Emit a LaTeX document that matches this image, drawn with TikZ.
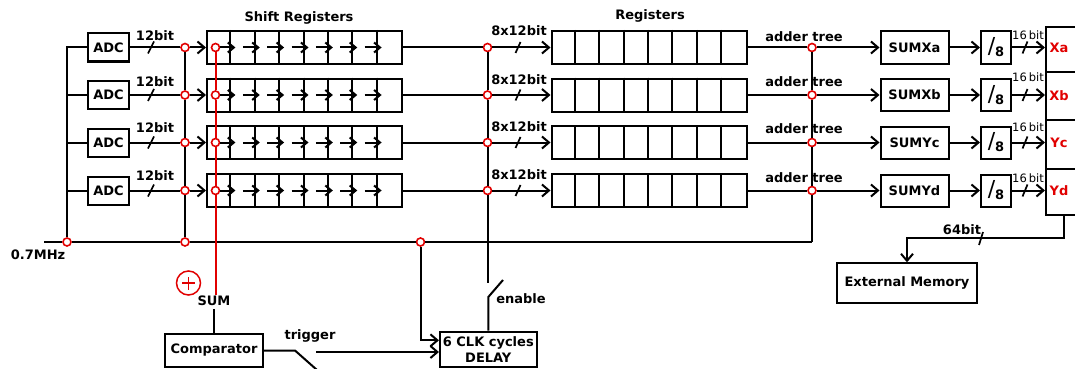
\documentclass[tikz,border=0pt]{standalone}
\usepackage{fontspec}
\setmainfont{DejaVu Sans}
\usetikzlibrary{arrows.meta}
\definecolor{rd}{RGB}{225,0,0}
\begin{document}
\begin{tikzpicture}[x=1pt,y=-1pt,
  wire/.style={line width=2pt},
  redwire/.style={line width=2pt, draw=rd},
  >={Straight Barb[length=7pt,width=12pt]},
  bf/.style={font=\bfseries\fontsize{13}{15}\selectfont},
  box/.style={draw, line width=2pt, inner sep=0pt, bf},
  dot/.style={circle, draw=rd, fill=white, line width=1.6pt, inner sep=0pt, minimum size=8pt},
  lbl/.style={inner sep=0pt, bf},
  thinlbl/.style={inner sep=0pt, font=\fontsize{11.5}{13}\selectfont},
  redlbl/.style={inner sep=0pt, bf, text=rd},
  slash/.style={line width=1.7pt},
  smallarr/.style={line width=2pt, -{Straight Barb[length=6pt,width=10pt]}},
]
\useasboundingbox (0,0) rectangle (1075,369);
\fill[white] (0,0) rectangle (1075,369);
\clip (0,0) rectangle (1075,369);

% titles
\node[lbl] (tsr) at (299,18) {Shift Registers};
\node[lbl] (treg) at (650,16) {Registers};
\node[lbl] (tclk) at (38,255) {0.7MHz};

% rows
\foreach \i/\y/\s in {1/47.5/SUMXa,2/95/SUMXb,3/142.5/SUMYc,4/190.5/SUMYd} {
  \node[box, minimum width=41pt, minimum height=28pt] (adc\i) at (108.5,\y) {ADC};
  \node[dot] (b\i) at (185,\y) {};
  \node[box, minimum width=195pt, minimum height=33pt] (sr\i) at (304.5,\y) {};
  \node[box, minimum width=195pt, minimum height=33pt] (reg\i) at (649,\y) {};
  \node[dot] (m\i) at (487.5,\y) {};
  \node[dot] (a\i) at (812,\y) {};
  \node[box, minimum width=68pt, minimum height=32pt] (sum\i) at (914.5,\y) {\s};
  \node[box, minimum width=30pt, minimum height=32pt] (div\i) at (996,\y)
     {{\fontsize{22}{22}\selectfont\mdseries/}\raisebox{-3pt}{8}};
}

% output register column
\node[draw, line width=2pt, minimum width=40pt, minimum height=45pt, inner sep=0pt] (out1) at (1066,49.8) {};
\node[draw, line width=2pt, minimum width=40pt, minimum height=47.7pt, inner sep=0pt] (out2) at (1066,96.2) {};
\node[draw, line width=2pt, minimum width=40pt, minimum height=49pt, inner sep=0pt] (out3) at (1066,144.5) {};
\node[draw, line width=2pt, minimum width=40pt, minimum height=46pt, inner sep=0pt] (out4) at (1066,192) {};
\node[redlbl] (lo1) at (1059,48) {Xa};
\node[redlbl] (lo2) at (1059,96) {Xb};
\node[redlbl] (lo3) at (1059,143) {Yc};
\node[redlbl] (lo4) at (1059,191) {Yd};

% cell dividers and internal shift arrows
\foreach \i in {1,...,4} {
  \foreach \k in {1,...,7} {
    \draw[wire] ([xshift=\k*24.375pt]sr\i.north west) -- ([xshift=\k*24.375pt]sr\i.south west);
    \draw[wire] ([xshift=\k*24.375pt]reg\i.north west) -- ([xshift=\k*24.375pt]reg\i.south west);
  }
  \foreach \k in {2,...,7} {
    \draw[smallarr] ([xshift=\k*24.375pt-12pt]sr\i.west) -- ([xshift=\k*24.375pt+5pt]sr\i.west);
  }
}
\foreach \i/\y in {1/47.5,2/95,3/142.5,4/190.5} {
  \node[dot] (s\i) at (215.5,\y) {};
}
\foreach \i in {1,...,4} { \draw[smallarr] (s\i) -- ([xshift=29.4pt]sr\i.west); }

% clock line and dots
\coordinate (clkL) at (44,242);
\coordinate (abot) at (812,242);
\node[dot] (ck1) at (67,242) {};
\node[dot] (ck2) at (185,242) {};
\node[dot] (ck3) at (420.5,242) {};
\draw[wire] (clkL) -- (ck1) -- (ck2) -- (ck3) -- (abot);

% left bus to ADCs
\draw[wire] (ck1) -- (ck1 |- adc1.west) -- (adc1.west);
\foreach \i in {2,3,4} { \draw[wire] (ck1 |- adc\i.west) -- (adc\i.west); }

% ADC outputs and data path
\foreach \i/\y in {1/47.5,2/95,3/142.5,4/190.5} {
  \draw[wire] (adc\i) -- (b\i);
  \draw[slash] (148,{\y+6}) -- (154,{\y-6});
  \draw[wire,->] (b\i) -- (sr\i.west);
  \draw[wire] (sr\i.east) -- (m\i);
  \draw[wire,->] (m\i) -- (reg\i.west);
  \draw[slash] (515.5,{\y+5.5}) -- (520.5,{\y-5.5});
  \draw[wire] (reg\i.east) -- (a\i);
  \draw[wire,->] (a\i) -- (sum\i.west);
  \draw[wire,->] (sum\i.east) -- (div\i.west);
  \draw[wire,->] (div\i.east) -- (div\i.east -| out\i.west);
  \draw[slash] (1022.5,{\y+6}) -- (1027.5,{\y-6});
}
\draw[wire] (b1) -- (b2) -- (b3) -- (b4) -- (ck2);
\coordinate (enTop) at (487.5,282.5);
\draw[wire] (m1) -- (m2) -- (m3) -- (m4) -- (enTop);
\draw[wire] (a1) -- (a2) -- (a3) -- (a4) -- (abot);

% red sum line
\coordinate (rbot) at (215.5,295);
\draw[redwire] (s1) -- (s2) -- (s3) -- (s4) -- (rbot);

% bit labels
\foreach \i/\ly in {1/36,2/82,3/128,4/176} { \node[lbl] (l12b\i) at (155,\ly) {12bit}; }
\foreach \i/\ly in {1/31,2/80,3/127,4/175} { \node[lbl] (l8x\i) at (519,\ly) {8x12bit}; }
\foreach \i/\ly in {1/37,2/82,3/129,4/178} { \node[lbl] (ladd\i) at (804,\ly) {adder tree}; }
\foreach \i/\ly in {1/35,2/77,3/127,4/178} { \node[thinlbl] (l16\i) at (1028,\ly) {16\,bit}; }

% external memory
\node[box, minimum width=140.6pt, minimum height=40pt] (ext) at (907,283.3) {External Memory};
\draw[wire,->] ([xshift=-2pt]out4.south) |- ([yshift=24pt]ext.north) -- (ext.north);
\draw[slash] (979,245) -- (983,232);
\node[lbl] (l64) at (962,230) {64bit};

% bottom: comparator and delay
\node[lbl, inner sep=3pt] (sumlbl) at (214,301) {SUM};
\node[circle, draw=rd, line width=1.5pt, minimum size=24pt, inner sep=0pt] (plus) at (188.5,283) {};
\draw[rd, line width=1.5pt] ([xshift=-6.5pt]plus.center) -- ([xshift=6.5pt]plus.center)
  ([yshift=-6.5pt]plus.center) -- ([yshift=6.5pt]plus.center);
\node[box, minimum width=98pt, minimum height=33pt] (comp) at (214,350.5) {Comparator};
\draw[wire] (sumlbl) -- (comp.north);
\node[box, minimum width=96.7pt, minimum height=35.3pt, align=center, font=\bfseries\fontsize{13}{16}\selectfont] (delay) at (488.3,349.3) {6 CLK cycles\\DELAY};

\coordinate (sw1) at (295,350.5);
\coordinate (sw2) at (317,370);
\draw[wire] (comp.east) -- (sw1) -- (sw2);
\coordinate (trg) at (316,352);
\draw[wire,->] (trg) -- (trg -| delay.west);
\node[lbl] (ltrig) at (310,336) {trigger};

\draw[wire,->] (ck3) |- ([yshift=9pt]delay.west);

\coordinate (en0) at (488.3,297);
\coordinate (en1) at (503,280);
\draw[wire] (delay.north) -- (en0) -- (en1);
\node[lbl] (lenable) at (521,299) {enable};
\end{tikzpicture}
\end{document}
